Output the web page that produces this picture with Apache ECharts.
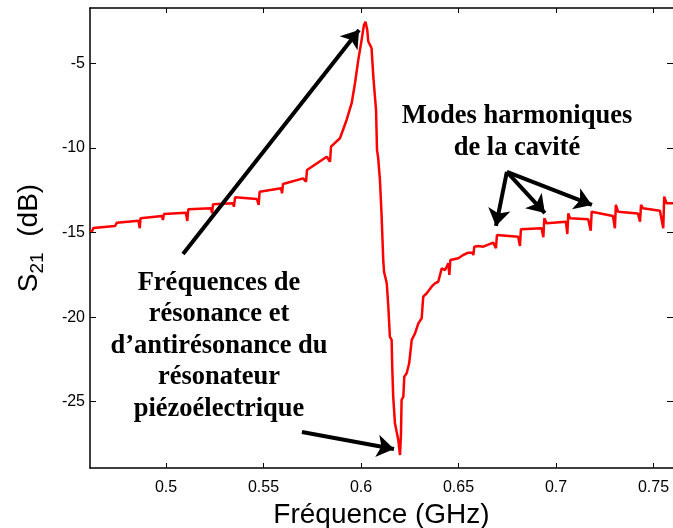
<!DOCTYPE html>
<html>
<head>
<meta charset="utf-8">
<script src="https://cdn.jsdelivr.net/npm/echarts@6/dist/echarts.min.js"></script>
<style>
  html, body { margin: 0; padding: 0; background: #fff; }
  #chart { width: 673px; height: 528px; }
</style>
</head>
<body>
<div id="chart"></div>
<script>
// Measured transmission S21 of the cavity around the piezoelectric resonance
const freqGHz = [
  0.4610, 0.4622, 0.4627, 0.4738, 0.4745, 0.4748, 0.4859, 0.4865, 0.4869, 0.4979,
  0.4984, 0.4989, 0.5102, 0.5109, 0.5114, 0.5231, 0.5236, 0.5241, 0.5343, 0.5348,
  0.5354, 0.5466, 0.5475, 0.5480, 0.5590, 0.5595, 0.5600, 0.5703, 0.5718, 0.5723,
  0.5824, 0.5841, 0.5846, 0.5892, 0.5926, 0.5952, 0.5969, 0.5986, 0.6003, 0.6015,
  0.6023, 0.6032, 0.6037, 0.6042, 0.6054, 0.6063, 0.6077, 0.6082, 0.6088, 0.6097,
  0.6105, 0.6114, 0.6118, 0.6126, 0.6132, 0.6140, 0.6148, 0.6157, 0.6160, 0.6165,
  0.6174, 0.6183, 0.6191, 0.6200, 0.6205, 0.6208, 0.6217, 0.6222, 0.6234, 0.6247,
  0.6260, 0.6277, 0.6294, 0.6311, 0.6319, 0.6337, 0.6362, 0.6379, 0.6396, 0.6414,
  0.6431, 0.6448, 0.6453, 0.6458, 0.6499, 0.6524, 0.6550, 0.6571, 0.6576, 0.6581,
  0.6601, 0.6627, 0.6678, 0.6692, 0.6697, 0.6806, 0.6815, 0.6820, 0.6926, 0.6935,
  0.6940, 0.6952, 0.7051, 0.7058, 0.7063, 0.7072, 0.7165, 0.7178, 0.7183, 0.7192,
  0.7292, 0.7302, 0.7307, 0.7318, 0.7420, 0.7431, 0.7436, 0.7446, 0.7533, 0.7550,
  0.7555, 0.7567, 0.7600
];
const s21dB = [
  -14.91, -14.90, -14.73, -14.62, -14.67, -14.42, -14.30, -14.75, -14.16, -14.02,
  -14.26, -13.91, -13.83, -14.32, -13.63, -13.57, -13.87, -13.33, -13.27, -13.48,
  -12.92, -13.02, -13.37, -12.59, -12.39, -12.68, -12.13, -11.80, -12.00, -11.31,
  -10.52, -10.82, -9.93, -9.43, -8.35, -7.36, -6.18, -4.80, -3.62, -2.74,
  -2.54, -3.03, -3.70, -3.62, -4.11, -5.79, -7.76, -10.12, -10.60, -11.90,
  -13.85, -16.63, -17.32, -17.22, -18.00, -19.39, -21.16, -21.35, -22.93, -24.70,
  -26.28, -26.38, -27.26, -28.15, -26.87, -24.90, -24.70, -23.52, -23.32, -22.73,
  -21.35, -20.96, -20.37, -20.07, -18.79, -18.59, -18.20, -18.00, -17.91, -17.12,
  -17.22, -16.82, -17.51, -16.63, -16.52, -16.33, -16.19, -16.19, -16.33, -15.84,
  -15.80, -15.84, -15.60, -15.93, -15.15, -15.25, -15.80, -14.81, -14.75, -15.28,
  -14.16, -14.46, -14.36, -15.09, -13.87, -14.16, -14.22, -14.89, -13.77, -13.87,
  -14.02, -14.75, -13.37, -13.77, -13.87, -14.36, -13.37, -13.57, -13.71, -14.75,
  -12.88, -13.27, -13.27
];

const xTicks = [0.5, 0.55, 0.6, 0.65, 0.7, 0.75];
const yTicks = [-25, -20, -15, -10, -5];
const xRange = [0.461, 0.760];
const yRange = [-28.918, -1.732];

// Annotation arrows, [fromGHz, fromdB, toGHz, todB]
const arrows = [
  [0.5087, -16.27, 0.5990, -3.03],
  [0.5697, -26.79, 0.6169, -27.79],
  [0.6748, -11.42, 0.6692, -14.61],
  [0.6748, -11.42, 0.6943, -13.85],
  [0.6748, -11.42, 0.7184, -13.37]
];

const resonanceNote = 'Fréquences de\nrésonance et\nd\u2019antirésonance du\nrésonateur\npiézoélectrique';
const modesNote = 'Modes harmoniques\nde la cavité';

const chart = echarts.init(document.getElementById('chart'), null, { renderer: 'canvas' });

const sansFamily = '"Liberation Sans", Arial, sans-serif';
const axisFont = { color: '#000', fontFamily: sansFamily, fontSize: 16 };

function xAxisCfg(pos, withLabels) {
  return {
    type: 'value', position: pos, min: xRange[0], max: xRange[1],
    axisLine: { show: true, onZero: false, lineStyle: { color: '#000', width: 1.5 } },
    axisTick: { show: true, inside: true, length: 5, customValues: xTicks, lineStyle: { color: '#000', width: 1 } },
    axisLabel: withLabels
      ? Object.assign({ show: true, margin: 12, customValues: xTicks, formatter: v => String(v) }, axisFont)
      : { show: false },
    splitLine: { show: false }
  };
}
function yAxisCfg(pos, withLabels, showLine) {
  return {
    type: 'value', position: pos, min: yRange[0], max: yRange[1],
    axisLine: { show: showLine, onZero: false, lineStyle: { color: '#000', width: 1.5 } },
    axisTick: { show: true, inside: true, length: 6, customValues: yTicks, lineStyle: { color: '#000', width: 1 } },
    axisLabel: withLabels
      ? Object.assign({ show: true, margin: 5, customValues: yTicks, formatter: v => String(v) }, axisFont)
      : { show: false },
    splitLine: { show: false }
  };
}

const bottomX = xAxisCfg('bottom', true);
bottomX.name = 'Fréquence (GHz)';
bottomX.nameLocation = 'middle';
bottomX.nameGap = 32;
bottomX.nameTextStyle = { color: '#000', fontFamily: sansFamily, fontSize: 28, verticalAlign: 'top' };

const leftY = yAxisCfg('left', true, true);
leftY.name = '{m|S}{s|21}{m|  (dB)}';
leftY.nameLocation = 'middle';
leftY.nameGap = 41;
leftY.nameTextStyle = {
  color: '#000',
  rich: {
    m: { fontFamily: sansFamily, fontSize: 28, color: '#000', lineHeight: 40, verticalAlign: 'middle' },
    s: { fontFamily: sansFamily, fontSize: 19, color: '#000', lineHeight: 40, verticalAlign: 'bottom', padding: [0, 0, 2, 0] }
  }
};

const option = {
  animation: false,
  backgroundColor: '#fff',
  grid: { left: 90, top: 8, right: 0, height: 460, containLabel: false, outerBoundsMode: 'none' },
  xAxis: [bottomX, xAxisCfg('top', false)],
  yAxis: [leftY, yAxisCfg('right', false, false)],
  series: [{
    type: 'line',
    xAxisIndex: 0, yAxisIndex: 0,
    data: freqGHz.map((f, i) => [f, s21dB[i]]),
    showSymbol: false,
    symbol: 'none',
    lineStyle: { color: '#ff0000', width: 2.5 },
    itemStyle: { color: '#ff0000' },
    emphasis: { disabled: true },
    markLine: {
      silent: true,
      symbol: ['none', 'arrow'],
      symbolSize: 17,
      label: { show: false },
      emphasis: { disabled: true },
      lineStyle: { color: '#000', width: 4, type: 'solid' },
      itemStyle: { color: '#000' },
      data: arrows.map(a => [{ coord: [a[0], a[1]] }, { coord: [a[2], a[3]] }])
    }
  }],
  graphic: [
    {
      type: 'text', x: 219, y: 346, silent: true,
      style: {
        text: resonanceNote, fill: '#000', textAlign: 'center', textVerticalAlign: 'middle',
        font: 'bold 26.5px "Liberation Serif", "Times New Roman", serif', lineHeight: 31.5
      }
    },
    {
      type: 'text', x: 517, y: 132, silent: true,
      style: {
        text: modesNote, fill: '#000', textAlign: 'center', textVerticalAlign: 'middle',
        font: 'bold 26.5px "Liberation Serif", "Times New Roman", serif', lineHeight: 31.5
      }
    }
  ]
};

chart.setOption(option);
</script>
</body>
</html>
